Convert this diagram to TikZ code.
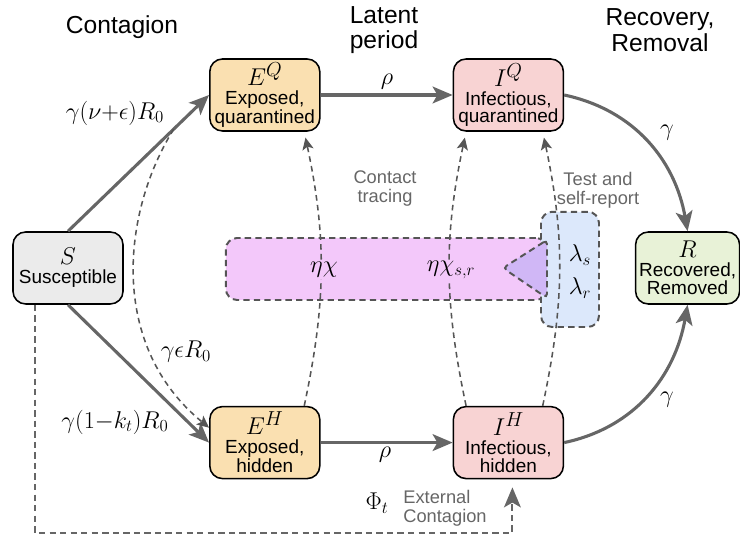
\documentclass[tikz,border=0pt]{standalone}
\usepackage{fontspec}
\setmainfont{Liberation Sans}
\usepackage{xcolor}
\definecolor{epiSable}{HTML}{FAE0B1}
\definecolor{epiRose}{HTML}{F8D3D3}
\definecolor{epiGrisClair}{HTML}{EBEBEB}
\definecolor{epiTilleul}{HTML}{E8F2D7}
\definecolor{epiMauve}{HTML}{F3C8FA}
\definecolor{epiCiel}{HTML}{DCE8FB}
\definecolor{epiLilas}{HTML}{D0B7F6}
\definecolor{epiGris}{HTML}{666666}
\definecolor{epiGrisFonce}{HTML}{555555}
\usepackage{tikz}
\usetikzlibrary{arrows.meta, positioning, calc}
\newcommand{\MathGrand}{\fontsize{19}{19}\selectfont}
\tikzset{
  %% ── Compartments ─────────────────────────────────────────────────────
  %% One box per state of the model; the symbol sits on top, larger, and
  %% the plain-language name under it.
  comp/.style       = {draw=black, line width=1.1pt, rounded corners=9pt,
                       align=center, inner sep=1pt,
                       minimum width=2.75cm, minimum height=1.8cm,
                       font=\fontsize{13.5}{12.5}\selectfont},
  panneau/.style    = {draw=epiGrisFonce, line width=1.4pt, rounded corners=8pt,
                       dash pattern=on 4.5pt off 3pt},
  %%
  %% ── Arrows ───────────────────────────────────────────────────────────
  %% Solid: the flow between compartments. Dashed: a diverted flow, it
  %% moves people sideways rather than forward.
  fleche/.style     = {-{Stealth[length=5mm, width=4.2mm, inset=1.2mm]},
                       draw=epiGris, line width=2.2pt},
  flecheTiret/.style = {-{Stealth[length=3mm, width=2.8mm, inset=0.7mm]},
                       draw=epiGrisFonce, line width=1.1pt,
                       dash pattern=on 4pt off 3pt},
  flecheExterne/.style = {-{Stealth[length=5mm, width=4.2mm, inset=1.2mm]},
                       draw=epiGris, line width=1.4pt,
                       dash pattern=on 4.5pt off 3pt},
  %%
  %% ── Text ─────────────────────────────────────────────────────────────
  etiquette/.style  = {font=\fontsize{17.5}{17.5}\selectfont, inner sep=1pt},
  noteGrise/.style  = {font=\fontsize{13}{13.5}\selectfont, text=epiGris,
                       align=center},
  titreColonne/.style = {font=\fontsize{17.5}{18}\selectfont, align=center},
}

\begin{document}
\begin{tikzpicture}[x=1cm, y=1cm]
\useasboundingbox (0,0) rectangle (18.5,13.375);

%% tracing and self-report panels, under everything else
\node[panneau, fill=epiMauve, minimum width=8.03cm, minimum height=1.55cm]
     (tracage) at (9.66, 6.65) {};
\node[panneau, fill=epiCiel, minimum width=1.45cm, minimum height=2.88cm]
     (rapport) at (14.25, 6.64) {};
\draw[panneau, fill=epiLilas, rounded corners=3pt]
     (13.675, 7.375) -- (12.575, 6.675) -- (13.675, 5.925) -- cycle;

\node[titreColonne] (tContagion) at (3.05, 12.7) {Contagion};
\node[titreColonne] (tLatence) at (9.6, 12.62) {Latent\\period};
\node[titreColonne] (tSortie) at (16.5, 12.62) {Recovery,\\Removal};

\node[comp, fill=epiGrisClair] (S) at (1.7, 6.675)
     {{\MathGrand $S$}\\[1pt]Susceptible};
\node[comp, fill=epiSable] (EQ) at (6.62, 11.0)
     {{\MathGrand $E^{Q}$}\\[1pt]Exposed,\\quarantined};
\node[comp, fill=epiRose] (IQ) at (12.71, 11.0)
     {{\MathGrand $I^{Q}$}\\[1pt]Infectious,\\quarantined};
\node[comp, fill=epiSable] (EH) at (6.62, 2.31)
     {{\MathGrand $E^{H}$}\\[1pt]Exposed,\\hidden};
\node[comp, fill=epiRose] (IH) at (12.71, 2.31)
     {{\MathGrand $I^{H}$}\\[1pt]Infectious,\\hidden};
\node[comp, fill=epiTilleul, minimum width=2.6cm] (R) at (17.19, 6.675)
     {{\MathGrand $R$}\\[1pt]Recovered,\\Removed};

%% main flow
\draw[fleche] (S.north) -- (EQ.west) coordinate[pos=0.75] (bifurc);
\draw[fleche] (S.south) -- (EH.west);
\draw[fleche] (EQ.east) -- (IQ.west);
\draw[fleche] (EH.east) -- (IH.west);
\draw[fleche] (IQ.east) to[out=-12, in=100] (R.north);
\draw[fleche] (IH.east) to[out=12, in=-100] (R.south);

%% diverted flows
\draw[flecheTiret] (bifurc) .. controls (3.05, 8.075) and (2.7, 4.75) .. (EH.165);
\draw[flecheTiret, shorten >=1.5mm] (EH.43) to[bend right=12] (EQ.-43);
\draw[flecheTiret, shorten >=1.5mm] (IH.139) to[bend left=12] (IQ.-139);
\draw[flecheTiret, shorten >=1.5mm] (IH.47) to[bend right=12] (IQ.-47);
\draw[flecheExterne] ([xshift=-8.25mm]S.south) -- ++(0,-5.7)
     -| ([xshift=1mm, yshift=-2mm]IH.south);

\node[etiquette] (lPlus) at (2.875, 10.55) {$\gamma(\nu{+}\epsilon)R_0$};
\node[etiquette] (lMoins) at (2.875, 2.825) {$\gamma(1{-}k_t)R_0$};
\node[etiquette] (lEps) at (4.65, 4.575) {$\gamma\epsilon R_0$};
\node[etiquette] (rhoQ) at (9.675, 11.33) {$\rho$};
\node[etiquette] (rhoH) at (9.625, 2.0) {$\rho$};
\node[etiquette] (gamQ) at (16.675, 10.05) {$\gamma$};
\node[etiquette] (gamH) at (16.675, 3.375) {$\gamma$};
\node[etiquette, fill=epiMauve] (lChi) at (8.1, 6.625) {$\eta\chi$};
\node[etiquette, fill=epiMauve] (lChiSR) at (11.275, 6.625) {$\eta\chi_{s,r}$};
\node[etiquette] (lamS) at (14.5, 7.0) {$\lambda_s$};
\node[etiquette] (lamR) at (14.5, 6.175) {$\lambda_r$};
\node[etiquette] (lPhi) at (9.425, 0.8) {$\Phi_t$};

\node[noteGrise] (nTracage) at (9.625, 8.65) {Contact\\tracing};
\node[noteGrise] (nRapport) at (14.95, 8.625) {Test and\\self-report};
\node[noteGrise, align=left] (nExterne) at (11.125, 0.675) {External\\Contagion};

\end{tikzpicture}
\end{document}
